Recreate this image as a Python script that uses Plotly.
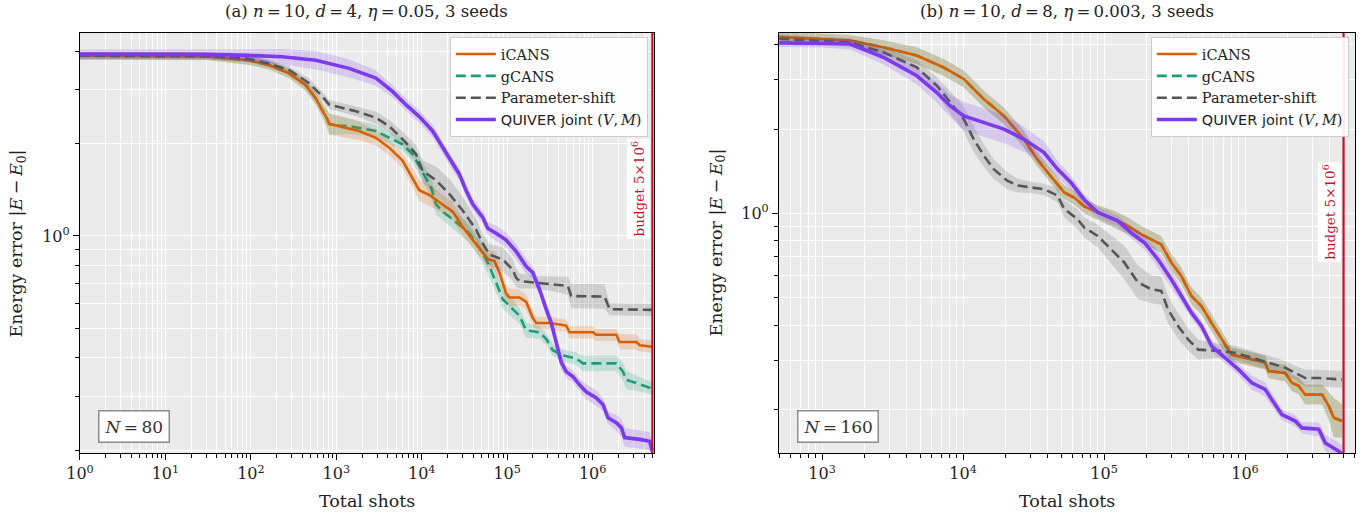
import numpy as np
import plotly.graph_objects as go

# ---------------- panel (a): n=10, d=4, eta=0.05 ----------------
A_ICANS_SHOTS = [1, 30, 95, 163, 280, 439, 575, 689, 787, 824, 1079, 1854, 2904, 4159, 5957,
                 7816, 9354, 12250, 17580, 23010, 30130, 39450, 51760, 59160, 70790, 81100,
                 97050, 106200, 139000, 166300, 199500, 218300, 312600, 490900, 537000,
                 1009000, 1104000, 1892000, 2070000, 3250000, 3556000, 4970000]
A_ICANS_ERR = [3.87, 3.85, 3.74, 3.61, 3.39, 3.10, 2.81, 2.58, 2.40, 2.32, 2.28, 2.20, 2.09, 1.94,
               1.76, 1.55, 1.41, 1.36, 1.27, 1.20, 1.07, 0.97, 0.88, 0.84, 0.83, 0.76, 0.65, 0.63,
               0.63, 0.61, 0.54, 0.52, 0.52, 0.51, 0.485, 0.485, 0.476, 0.476, 0.451, 0.451,
               0.440, 0.435]
A_ICANS_SPREAD = [0.012, 0.012, 0.015, 0.015, 0.015, 0.018, 0.02, 0.025, 0.03, 0.035,
                  0.035, 0.03, 0.025, 0.025, 0.025, 0.03, 0.035, 0.035, 0.03, 0.03,
                  0.03, 0.025, 0.025, 0.03, 0.03, 0.035, 0.03, 0.03, 0.025, 0.025,
                  0.025, 0.02, 0.02, 0.02, 0.02, 0.02, 0.02, 0.02, 0.025, 0.025,
                  0.02, 0.02]

A_GCANS_SHOTS = [1, 30, 95, 163, 280, 439, 575, 689, 787, 824, 1079, 1413, 2904, 4159, 5957,
                 7816, 10230, 12820, 14660, 17580, 25180, 36060, 51760, 61940, 74130, 88720,
                 116100, 139000, 166300, 238800, 285800, 342000, 447700, 642700, 769100,
                 1104000, 1892000, 2265000, 2477000, 3251000, 4970000]
A_GCANS_ERR = [3.87, 3.85, 3.74, 3.61, 3.39, 3.10, 2.81, 2.58, 2.40, 2.32, 2.29, 2.28, 2.20, 2.09,
               1.99, 1.85, 1.61, 1.44, 1.27, 1.20, 1.11, 1.02, 0.879, 0.796, 0.705, 0.622, 0.577,
               0.550, 0.492, 0.485, 0.462, 0.424, 0.408, 0.398, 0.384, 0.384, 0.384, 0.361,
               0.339, 0.331, 0.318]
A_GCANS_SPREAD = [0.012, 0.012, 0.015, 0.015, 0.015, 0.018, 0.02, 0.025, 0.03, 0.035,
                  0.03, 0.025, 0.02, 0.02, 0.02, 0.025, 0.03, 0.035, 0.035, 0.03,
                  0.03, 0.03, 0.035, 0.035, 0.035, 0.03, 0.03, 0.025, 0.025, 0.02,
                  0.02, 0.02, 0.02, 0.02, 0.025, 0.025, 0.025, 0.03, 0.03, 0.025,
                  0.02]

A_PSHIFT_SHOTS = [1, 30, 95, 163, 280, 480, 689, 824, 986, 1694, 2904, 4159, 5957, 8551, 10230,
                  14660, 21040, 30130, 43150, 51760, 61940, 88720, 116100, 127100, 139000,
                  218300, 374100, 512900, 561000, 1380000, 1581000, 4970000]
A_PSHIFT_ERR = [3.87, 3.86, 3.78, 3.65, 3.48, 3.15, 2.85, 2.68, 2.65, 2.55, 2.43, 2.28, 2.07, 1.85,
                1.63, 1.52, 1.37, 1.21, 1.05, 0.946, 0.869, 0.838, 0.776, 0.731, 0.713, 0.705,
                0.695, 0.687, 0.637, 0.634, 0.577, 0.574]
A_PSHIFT_SPREAD = [0.012, 0.012, 0.012, 0.012, 0.012, 0.015, 0.015, 0.015, 0.015, 0.015,
                   0.02, 0.02, 0.025, 0.03, 0.035, 0.045, 0.05, 0.045, 0.035, 0.03,
                   0.035, 0.04, 0.035, 0.03, 0.025, 0.02, 0.025, 0.03, 0.04, 0.04,
                   0.02, 0.02]

A_QUIVER_SHOTS = [1, 30, 95, 233, 575, 1413, 2904, 4550, 6516, 9354, 13400, 17580, 23010, 27540,
                  32960, 39450, 51760, 59160, 74130, 97050, 127100, 166300, 199500, 238800,
                  285800, 327300, 374100, 428500, 490900, 587500, 703100, 841400, 1104000,
                  1321000, 1514000, 1892000, 2168000, 2371000, 3556000, 4656000, 4970000]
A_QUIVER_ERR = [3.92, 3.91, 3.88, 3.84, 3.74, 3.52, 3.27, 2.96, 2.68, 2.45, 2.20, 1.94, 1.71, 1.59,
                1.41, 1.27, 1.15, 1.06, 1.02, 0.97, 0.891, 0.796, 0.759, 0.670, 0.577, 0.522,
                0.451, 0.388, 0.361, 0.348, 0.327, 0.310, 0.296, 0.282, 0.255, 0.246, 0.237,
                0.220, 0.217, 0.214, 0.199]
A_QUIVER_SPREAD = [0.015, 0.015, 0.02, 0.025, 0.03, 0.03, 0.025, 0.02, 0.02, 0.02,
                   0.02, 0.02, 0.02, 0.02, 0.02, 0.02, 0.02, 0.02, 0.025, 0.025,
                   0.025, 0.025, 0.02, 0.02, 0.02, 0.02, 0.025, 0.025, 0.02, 0.02,
                   0.02, 0.025, 0.025, 0.02, 0.02, 0.025, 0.03, 0.03, 0.03, 0.03,
                   0.03]

# ---------------- panel (b): n=10, d=8, eta=0.003 ----------------
B_ICANS_SHOTS = [497, 1000, 1574, 2716, 4699, 7278, 10120, 14030, 19500, 27040, 33650, 41880,
                 52120, 61380, 72440, 90160, 118300, 147600, 183700, 216300, 254700, 300600,
                 354000, 416900, 490900, 579400, 682300, 803500, 1000000, 1390000, 1469000,
                 1928000, 2153000, 2399000, 2679000, 3524000, 3926000, 4266000, 4887000]
B_ICANS_ERR = [4.26, 4.20, 4.14, 3.92, 3.66, 3.32, 3.02, 2.56, 2.23, 1.84, 1.56, 1.36, 1.19, 1.14,
               1.06, 1.01, 0.955, 0.904, 0.843, 0.809, 0.776, 0.668, 0.598, 0.508, 0.468, 0.407,
               0.356, 0.314, 0.306, 0.294, 0.274, 0.270, 0.249, 0.243, 0.226, 0.226, 0.206,
               0.187, 0.182]
B_ICANS_SPREAD = [0.02, 0.02, 0.02, 0.025, 0.03, 0.03, 0.03, 0.03, 0.03, 0.03,
                  0.025, 0.025, 0.025, 0.025, 0.025, 0.025, 0.03, 0.03, 0.03, 0.03,
                  0.03, 0.03, 0.03, 0.03, 0.03, 0.03, 0.03, 0.025, 0.025, 0.025,
                  0.025, 0.03, 0.03, 0.03, 0.035, 0.035, 0.05, 0.07, 0.06]

# gCANS tracks iCANS over the whole run in this setting
B_GCANS_SHOTS = [497, 1000, 1574, 2716, 4699, 7278, 10120, 14030, 19500, 27040, 33650, 41880,
                 52120, 61380, 72440, 90160, 118300, 147600, 183700, 216300, 254700, 300600,
                 354000, 416900, 490900, 579400, 682300, 803500, 1000000, 1390000, 1469000,
                 1928000, 2153000, 2399000, 2679000, 3524000, 3926000, 4266000, 4887000]
B_GCANS_ERR = [4.26, 4.20, 4.14, 3.92, 3.66, 3.32, 3.02, 2.56, 2.23, 1.84, 1.56, 1.36, 1.19, 1.14,
               1.06, 1.01, 0.955, 0.904, 0.843, 0.809, 0.776, 0.668, 0.598, 0.508, 0.468, 0.407,
               0.356, 0.314, 0.306, 0.294, 0.274, 0.270, 0.249, 0.243, 0.226, 0.226, 0.206,
               0.187, 0.182]
B_GCANS_SPREAD = [0.02, 0.02, 0.02, 0.025, 0.03, 0.03, 0.03, 0.03, 0.03, 0.03,
                  0.025, 0.025, 0.025, 0.025, 0.025, 0.025, 0.03, 0.03, 0.03, 0.03,
                  0.03, 0.03, 0.03, 0.03, 0.03, 0.03, 0.03, 0.025, 0.025, 0.025,
                  0.025, 0.03, 0.03, 0.03, 0.035, 0.035, 0.05, 0.07, 0.06]

B_PSHIFT_SHOTS = [497, 1000, 1574, 2716, 4699, 6516, 8128, 10120, 11910, 14030, 16520, 20560,
                  24270, 30200, 37580, 46770, 52120, 64860, 72440, 90160, 112200, 139600,
                  173800, 216300, 254700, 284400, 335000, 394600, 465600, 645700, 849200,
                  1117000, 1469000, 1928000, 2275000, 2679000, 3334000, 4887000]
B_PSHIFT_ERR = [4.20, 4.13, 4.07, 3.76, 3.32, 2.86, 2.49, 2.17, 1.84, 1.61, 1.44, 1.31, 1.26, 1.24,
                1.22, 1.16, 1.04, 0.955, 0.891, 0.832, 0.746, 0.668, 0.568, 0.537, 0.530, 0.455,
                0.397, 0.356, 0.327, 0.324, 0.319, 0.306, 0.294, 0.282, 0.270, 0.259, 0.259,
                0.256]
B_PSHIFT_SPREAD = [0.015, 0.015, 0.015, 0.02, 0.025, 0.03, 0.04, 0.045, 0.045, 0.04,
                   0.035, 0.03, 0.025, 0.02, 0.02, 0.025, 0.03, 0.035, 0.035, 0.04,
                   0.05, 0.06, 0.06, 0.05, 0.05, 0.05, 0.045, 0.04, 0.035, 0.025,
                   0.025, 0.025, 0.025, 0.025, 0.025, 0.03, 0.03, 0.03]

B_QUIVER_SHOTS = [497, 1000, 1574, 2716, 4699, 6516, 8128, 10120, 14030, 19500, 27040, 37580,
                  46770, 58210, 72440, 90160, 125000, 155600, 193600, 241000, 300600, 354000,
                  416900, 490900, 579400, 721100, 897500, 1117000, 1390000, 1549000, 1828000,
                  2275000, 2535000, 3334000, 3715000, 4624000, 4887000]
B_QUIVER_ERR = [4.06, 4.05, 4.03, 3.61, 3.10, 2.70, 2.42, 2.23, 2.11, 2.00, 1.84, 1.65, 1.44, 1.29,
                1.12, 1.01, 0.942, 0.855, 0.787, 0.687, 0.582, 0.508, 0.443, 0.397, 0.337, 0.306,
                0.278, 0.249, 0.236, 0.217, 0.192, 0.182, 0.172, 0.170, 0.152, 0.142, 0.139]
B_QUIVER_SPREAD = [0.015, 0.015, 0.02, 0.025, 0.03, 0.035, 0.04, 0.05, 0.05, 0.05,
                   0.045, 0.04, 0.03, 0.025, 0.02, 0.02, 0.02, 0.02, 0.025, 0.03,
                   0.03, 0.025, 0.02, 0.02, 0.02, 0.02, 0.02, 0.025, 0.025, 0.025,
                   0.02, 0.02, 0.02, 0.025, 0.03, 0.03, 0.03]

BUDGET = 5e6
X_TICKS_A = [1, 10, 100, 1000, 10000, 100000, 1000000]
X_TICKTEXT_A = ["10<sup>0</sup>", "10<sup>1</sup>", "10<sup>2</sup>", "10<sup>3</sup>",
                "10<sup>4</sup>", "10<sup>5</sup>", "10<sup>6</sup>"]
X_TICKS_B = [1000, 10000, 100000, 1000000]
X_TICKTEXT_B = ["10<sup>3</sup>", "10<sup>4</sup>", "10<sup>5</sup>", "10<sup>6</sup>"]
Y_TICKS = [1]
Y_TICKTEXT = ["10<sup>0</sup>"]

PANELS = [
    dict(title="(a) <i>n</i>\u2009=\u200910, <i>d</i>\u2009=\u20094, <i>η</i>\u2009=\u20090.05, 3 seeds",
         n_label="<i>N</i>\u2009=\u200980",
         series=[(A_GCANS_SHOTS, A_GCANS_ERR, A_GCANS_SPREAD),
                 (A_ICANS_SHOTS, A_ICANS_ERR, A_ICANS_SPREAD),
                 (A_PSHIFT_SHOTS, A_PSHIFT_ERR, A_PSHIFT_SPREAD),
                 (A_QUIVER_SHOTS, A_QUIVER_ERR, A_QUIVER_SPREAD)],
         xticks=X_TICKS_A, xtext=X_TICKTEXT_A,
         xrange=[0.0, 6.718], yrange=[-0.708, 0.662],
         xdom=[0.0585, 0.4784], budget_y=0.205),
    dict(title="(b) <i>n</i>\u2009=\u200910, <i>d</i>\u2009=\u20098, <i>η</i>\u2009=\u20090.003, 3 seeds",
         n_label="<i>N</i>\u2009=\u2009160",
         series=[(B_GCANS_SHOTS, B_GCANS_ERR, B_GCANS_SPREAD),
                 (B_ICANS_SHOTS, B_ICANS_ERR, B_ICANS_SPREAD),
                 (B_PSHIFT_SHOTS, B_PSHIFT_ERR, B_PSHIFT_SPREAD),
                 (B_QUIVER_SHOTS, B_QUIVER_ERR, B_QUIVER_SPREAD)],
         xticks=X_TICKS_B, xtext=X_TICKTEXT_B,
         xrange=[2.695, 6.78], yrange=[-0.854, 0.644],
         xdom=[0.5699, 0.9912], budget_y=0.25),
]

# drawing order: gCANS, iCANS, Parameter-shift, QUIVER (legend shows iCANS first)
STYLES = [
    dict(name="gCANS", color="#1b9e77", fill="rgba(27,158,119,0.20)", dash="10px,5px", width=2.6, rank=2),
    dict(name="iCANS", color="#d95f02", fill="rgba(217,95,2,0.20)", dash="solid", width=2.6, rank=1),
    dict(name="Parameter-shift", color="#555555", fill="rgba(85,85,85,0.20)", dash="10px,5px", width=2.6, rank=3),
    dict(name="<span style=\"font-family:'DejaVu Sans'\">QUIVER joint</span> (<i>V</i>,\u2009<i>M</i>)",
         color="#7c3aed", fill="rgba(124,58,237,0.20)", dash="solid", width=3.6, rank=4),
]

SERIF = "DejaVu Serif"
BUDGET_RED = "#c8102e"
Y_DOM = [0.1204, 0.936]

fig = go.Figure()
annotations = []

for i, panel in enumerate(PANELS):
    k = "" if i == 0 else str(i + 1)
    xa, ya = "x" + k, "y" + k
    legend_id = "legend" + k

    for (shots, err, spread), st in zip(panel["series"], STYLES):
        s = np.asarray(shots, dtype=float)
        e = np.asarray(err, dtype=float)
        w = np.asarray(spread, dtype=float)
        upper = e * 10 ** w
        lower = e / 10 ** w
        fig.add_trace(go.Scatter(
            x=np.concatenate([s, s[::-1]]), y=np.concatenate([upper, lower[::-1]]),
            fill="toself", fillcolor=st["fill"], line=dict(width=0),
            mode="lines", hoverinfo="skip", showlegend=False, xaxis=xa, yaxis=ya))
        fig.add_trace(go.Scatter(
            x=s, y=e, mode="lines", name=st["name"],
            line=dict(color=st["color"], width=st["width"], dash=st["dash"]),
            legend=legend_id, legendrank=st["rank"], xaxis=xa, yaxis=ya))

    # shot budget marker
    fig.add_trace(go.Scatter(x=[BUDGET, BUDGET], y=[0.05, 20], mode="lines",
                             line=dict(color=BUDGET_RED, width=2.2), hoverinfo="skip",
                             showlegend=False, xaxis=xa, yaxis=ya))

    lo, hi = panel["xrange"]
    decades = range(int(np.floor(lo)), int(np.ceil(hi)) + 1)
    x_minor = [m * 10 ** d for d in decades for m in range(2, 10)]
    y_minor = [0.2, 0.3, 0.4, 0.5, 0.6, 0.7, 0.8, 0.9, 2, 3, 4]

    axis_common = dict(showline=True, linecolor="black", linewidth=1.3, mirror=True,
                       ticks="outside", ticklen=6, tickwidth=1.2, tickcolor="black",
                       gridcolor="white", gridwidth=1.3, zeroline=False, automargin=False,
                       tickfont=dict(family=SERIF, size=16, color="#222"))
    fig.update_layout(**{
        "xaxis" + k: dict(type="log", range=panel["xrange"], domain=panel["xdom"], anchor=ya,
                          tickvals=panel["xticks"], ticktext=panel["xtext"],
                          minor=dict(tickvals=x_minor, ticks="outside", ticklen=3.5, tickwidth=1,
                                     tickcolor="black", showgrid=True, gridcolor="white",
                                     gridwidth=0.7),
                          **axis_common),
        "yaxis" + k: dict(type="log", range=panel["yrange"], domain=Y_DOM, anchor=xa,
                          tickvals=Y_TICKS, ticktext=Y_TICKTEXT,
                          minor=dict(tickvals=y_minor, ticks="outside", ticklen=3.5, tickwidth=1,
                                     tickcolor="black", showgrid=True, gridcolor="white",
                                     gridwidth=1.0),
                          **axis_common),
        legend_id: dict(x=panel["xdom"][1] - 0.0045, xanchor="right", y=Y_DOM[1] - 0.008,
                        yanchor="top", bgcolor="rgba(255,255,255,0.92)", bordercolor="#cccccc",
                        borderwidth=1, font=dict(family=SERIF, size=14.5, color="#222"),
                        itemwidth=40, tracegroupgap=2),
    })

    xc = (panel["xdom"][0] + panel["xdom"][1]) / 2
    annotations += [
        dict(text=panel["title"], xref="paper", yref="paper", x=xc, y=0.977,
             xanchor="center", yanchor="middle", showarrow=False,
             font=dict(family=SERIF, size=16.5, color="#222")),
        dict(text="Total shots", xref="paper", yref="paper", x=xc, y=0.028,
             xanchor="center", yanchor="middle", showarrow=False,
             font=dict(family=SERIF, size=17.5, color="#222")),
        dict(text="Energy error |<i>E</i>\u2009−\u2009<i>E</i><sub>0</sub>|", xref="paper",
             yref="paper", x=panel["xdom"][0] - 0.045, y=(Y_DOM[0] + Y_DOM[1]) / 2,
             textangle=-90, xanchor="center", yanchor="middle", showarrow=False,
             font=dict(family=SERIF, size=17.5, color="#222")),
        dict(text=panel["n_label"], xref="paper", yref="paper",
             x=panel["xdom"][0] + 0.013, y=Y_DOM[0] + 0.02, xanchor="left", yanchor="bottom",
             showarrow=False, bgcolor="white", bordercolor="#8c8c8c", borderwidth=1.5,
             borderpad=5, font=dict(family=SERIF, size=17, color="#333")),
        dict(text="budget 5×10<sup>6</sup>", xref=xa, yref="paper",
             x=np.log10(BUDGET), y=Y_DOM[1] - panel["budget_y"], textangle=-90,
             xanchor="right", yanchor="top", xshift=-2, showarrow=False,
             bgcolor="white", borderpad=2,
             font=dict(family=SERIF, size=13.5, color=BUDGET_RED)),
    ]

fig.update_layout(width=1367, height=515, margin=dict(l=0, r=0, t=0, b=0),
                  paper_bgcolor="white", plot_bgcolor="#ebebeb",
                  annotations=annotations)

fig.write_html("out.html")
